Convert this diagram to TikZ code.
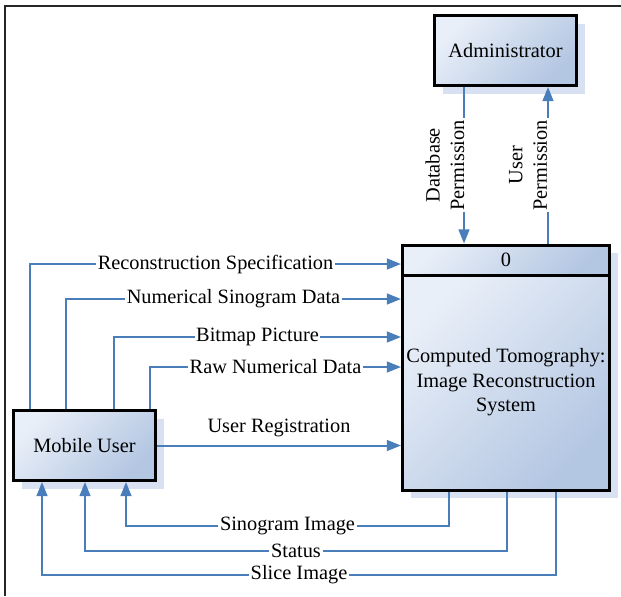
\documentclass[tikz,border=0pt]{standalone}
\usepackage{fontspec}
\setmainfont{Liberation Serif}
\usetikzlibrary{positioning}
\usetikzlibrary{arrows.meta}
\usetikzlibrary{shadows}
\definecolor{flowblue}{HTML}{4A7EBB}
\definecolor{boxlight}{HTML}{E9EFF8}
\definecolor{boxdark}{HTML}{B3C6E2}
\definecolor{shadowblue}{HTML}{D7E1F1}
\tikzset{
  every node/.append style={font=\fontsize{12.2}{14.7}\selectfont},
  entity/.style={draw=black,line width=1.8pt,top color=boxlight,bottom color=boxdark,
    shading angle=45,align=center,inner sep=0pt,
    drop shadow={shadow xshift=4.8pt,shadow yshift=-4.8pt,fill=shadowblue,opacity=1}},
  terminator/.style={entity,minimum width=85.2pt,minimum height=42pt},
  process/.style={entity,minimum width=124.2pt},
  flow/.style={draw=flowblue,line width=1.2pt,-{Triangle[length=8.5pt,width=6.5pt]}},
  flowlabel/.style={fill=white,inner sep=1pt,text=black},
  vlabel/.style={flowlabel,align=center},
  frameline/.style={draw=black!85,line width=1.2pt}
}
\begin{document}
\begin{tikzpicture}[x=0.6pt,y=-0.6pt]
    \useasboundingbox (0,0) rectangle (621,596);
    \draw[frameline] (621,6) -- (5,6) -- (5,596);
    % external entities
    \node[terminator] (admin) at (505.5,50.5) {Administrator};
    \node[terminator] (user) at (84.5,445.5) {Mobile User};
    % process
    \node[process,minimum height=18pt] (procHead) at (506,260) {0};
    \node[process,minimum height=129pt] (proc) at (506,382.5)
      {Computed Tomography:\\Image Reconstruction\\System};
    % administrator flows
    \draw[flow] (admin.south -| 464,0) -- node[vlabel,xshift=-11.4pt,rotate=90]
      {Database\\Permission} (procHead.north -| 464,0);
    \draw[flow] (procHead.north -| 548,0) -- node[vlabel,xshift=-12pt,rotate=90]
      {User\\Permission} (admin.south -| 548,0);
    % user to process
    \draw[flow] (user.north -| 30,0) |- node[flowlabel,pos=.75]
      {Reconstruction Specification} (procHead.west |- 0,264);
    \draw[flow] (user.north -| 66,0) |- node[flowlabel,pos=.75]
      {Numerical Sinogram Data} (proc.west |- 0,299);
    \draw[flow] (user.north -| 114,0) |- node[flowlabel,pos=.75]
      {Bitmap Picture} (proc.west |- 0,337);
    \draw[flow] (user.north -| 150,0) |- node[flowlabel,pos=.75]
      {Raw Numerical Data} (proc.west |- 0,367);
    \draw[flow] (user.east) -- node[flowlabel,fill=none,above=3.5pt]
      {User Registration} (proc.west |- user.east);
    % process to user
    \draw[flow] (proc.south -| 449,0) -- ++(0,34) -| node[flowlabel,pos=.25]
      {Sinogram Image} (user.south -| 126,0);
    \draw[flow] (proc.south -| 507,0) -- ++(0,59) -| node[flowlabel,pos=.25]
      {Status} (user.south -| 85,0);
    \draw[flow] (proc.south -| 556,0) -- ++(0,83) -| node[flowlabel,pos=.25]
      {Slice Image} (user.south -| 42,0);
  \end{tikzpicture}
\end{document}
